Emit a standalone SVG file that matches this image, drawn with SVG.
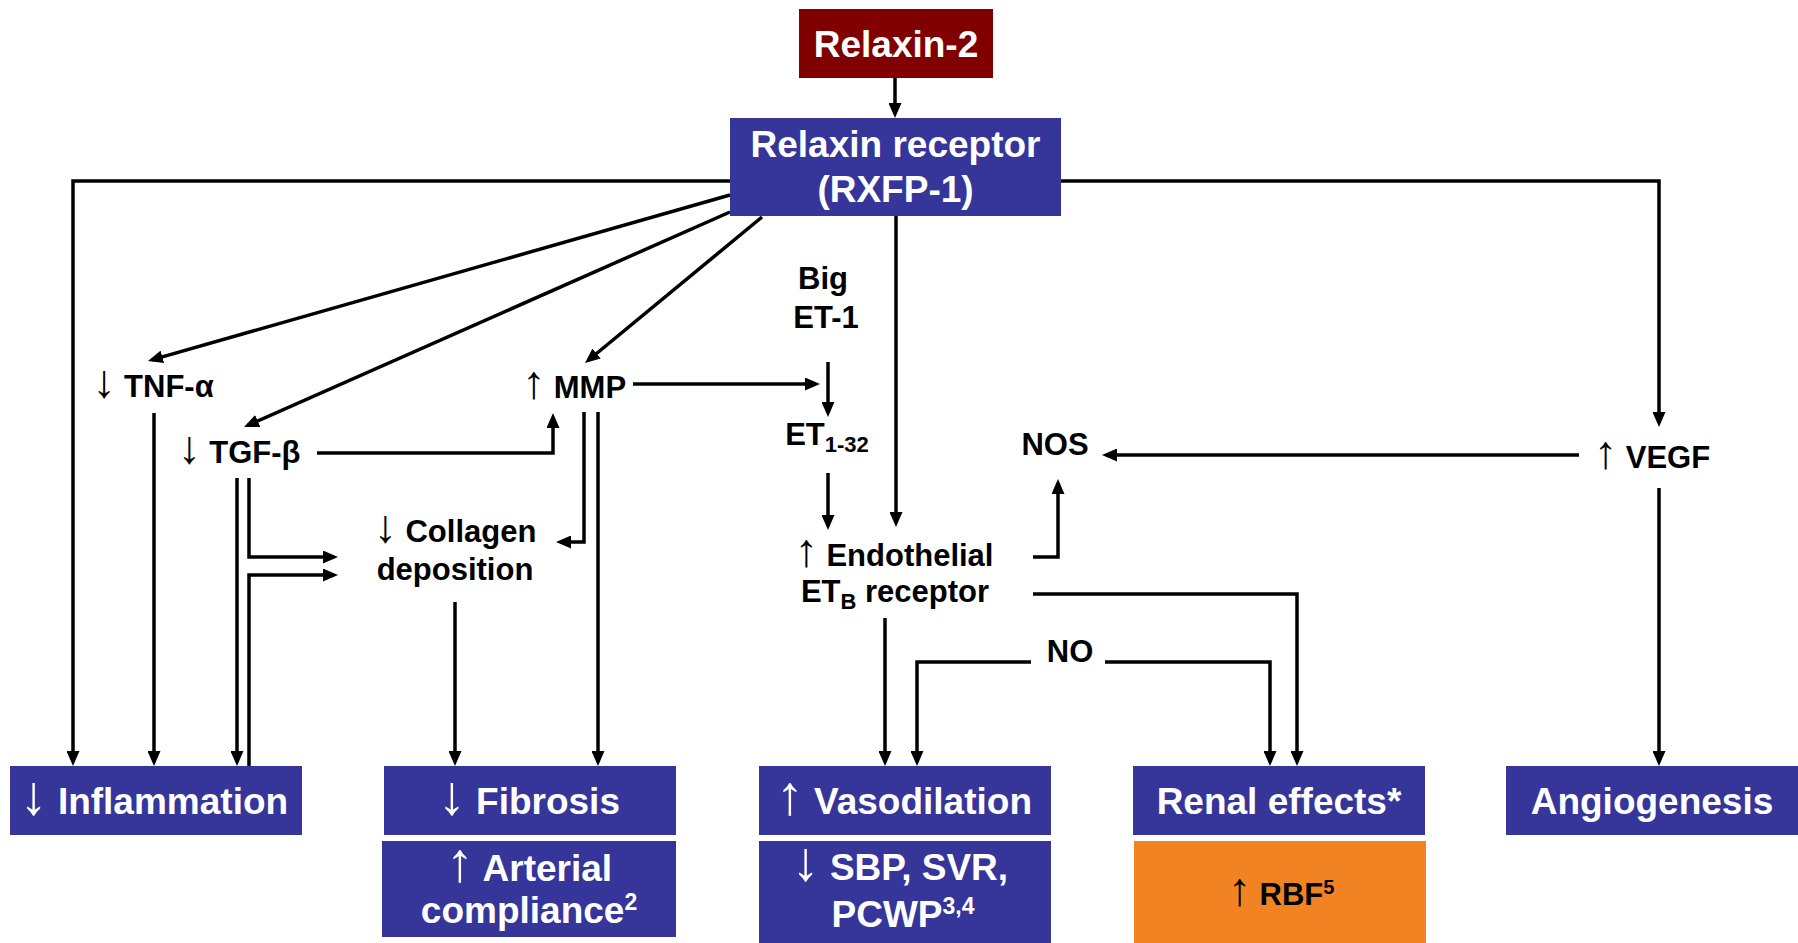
<svg xmlns="http://www.w3.org/2000/svg" width="1798" height="943" viewBox="0 0 1798 943">
<style>
.bg{fill:#ffffff}
.blue{fill:#35359A}
.red{fill:#800000}
.orange{fill:#F28322}
.bt{font-family:"Liberation Sans",Arial,sans-serif;font-weight:bold;font-size:37px;fill:#ffffff;text-anchor:middle}
.lb{font-family:"Liberation Sans",Arial,sans-serif;font-weight:bold;font-size:31px;fill:#000000;text-anchor:middle}
.ar{font-weight:normal;font-size:150%}
.c{fill:none;stroke:#000;stroke-width:3.5;stroke-linejoin:miter;marker-end:url(#ah)}
</style>
<defs>
<marker id="ah" viewBox="0 0 15 13" refX="11" refY="6.5" markerWidth="15" markerHeight="13" markerUnits="userSpaceOnUse" orient="auto"><path d="M0,0 L15,6.5 L0,13 z" fill="#000"/></marker>
</defs>
<rect class="bg" x="0" y="0" width="1798" height="943"/>

<g id="connectors">
<path class="c" d="M895,78 V114"/>
<path class="c" d="M730,181 H73 V762"/>
<path class="c" d="M1061,181 H1659 V423"/>
<path class="c" d="M730,195 L151.8,359.9"/>
<path class="c" d="M730,212 L247.7,425.4"/>
<path class="c" d="M762,217 L588.1,360.5"/>
<path class="c" d="M896,216 V523"/>
<path class="c" d="M828,362 V413"/>
<path class="c" d="M633,384 H816"/>
<path class="c" d="M828,473 V526"/>
<path class="c" d="M154,413 V762"/>
<path class="c" d="M237,478 V762"/>
<path class="c" d="M249,478 V557 H334"/>
<path class="c" d="M249,766 V575 H334"/>
<path class="c" d="M317,453 H553 V417"/>
<path class="c" d="M584,412 V542 H560"/>
<path class="c" d="M598,412 V762"/>
<path class="c" d="M455,602 V762"/>
<path class="c" d="M885,618 V762"/>
<path class="c" d="M1033,557 H1058 V483"/>
<path class="c" d="M1033,594 H1297 V762"/>
<path class="c" d="M1031,662 H917 V762"/>
<path class="c" d="M1105,662 H1270 V762"/>
<path class="c" d="M1579,455 H1106"/>
<path class="c" d="M1659,488 V762"/>
</g>

<g id="relaxin2">
<rect class="red" x="799" y="9" width="194" height="69"/>
<text class="bt" x="896" y="57">Relaxin-2</text>
</g>

<g id="receptor">
<rect class="blue" x="730" y="118" width="331" height="98"/>
<text class="bt" x="895.5" y="157">Relaxin receptor</text>
<text class="bt" x="895.5" y="202">(RXFP-1)</text>
</g>

<g id="tnf"><text class="lb" x="153" y="397"><tspan class="ar">↓</tspan> TNF-α</text></g>
<g id="tgf"><text class="lb" x="239" y="463"><tspan class="ar">↓</tspan> TGF-β</text></g>
<g id="mmp"><text class="lb" x="574" y="398"><tspan class="ar">↑</tspan> MMP</text></g>
<g id="bigET1">
<text class="lb" x="823" y="289">Big</text>
<text class="lb" x="826" y="328">ET-1</text>
</g>
<g id="et132"><text class="lb" x="827" y="445">ET<tspan font-size="22" dy="7">1-32</tspan></text></g>
<g id="collagen">
<text class="lb" x="455" y="542"><tspan class="ar">↓</tspan> Collagen</text>
<text class="lb" x="455" y="580">deposition</text>
</g>
<g id="endothelial">
<text class="lb" x="894" y="566"><tspan class="ar">↑</tspan> Endothelial</text>
<text class="lb" x="895" y="602">ET<tspan font-size="22" dy="7">B</tspan><tspan dy="-7"> receptor</tspan></text>
</g>
<g id="nos"><text class="lb" x="1055" y="455">NOS</text></g>
<g id="vegf"><text class="lb" x="1652" y="468"><tspan class="ar">↑</tspan> VEGF</text></g>
<g id="no"><text class="lb" x="1070" y="662">NO</text></g>

<g id="inflammation">
<rect class="blue" x="10" y="766" width="292" height="69"/>
<text class="bt" x="154" y="814"><tspan class="ar">↓</tspan> Inflammation</text>
</g>
<g id="fibrosis">
<rect class="blue" x="384" y="766" width="292" height="69"/>
<text class="bt" x="529" y="814"><tspan class="ar">↓</tspan> Fibrosis</text>
</g>
<g id="arterial">
<rect class="blue" x="382" y="841" width="294" height="96"/>
<text class="bt" x="529" y="881"><tspan class="ar">↑</tspan> Arterial</text>
<text class="bt" x="529" y="923">compliance<tspan font-size="23" dy="-13">2</tspan></text>
</g>
<g id="vasodilation">
<rect class="blue" x="759" y="766" width="292" height="69"/>
<text class="bt" x="904" y="814"><tspan class="ar">↑</tspan> Vasodilation</text>
</g>
<g id="sbp">
<rect class="blue" x="759" y="841" width="292" height="102"/>
<text class="bt" x="900" y="880"><tspan class="ar">↓</tspan> SBP, SVR,</text>
<text class="bt" x="903" y="927">PCWP<tspan font-size="23" dy="-13">3,4</tspan></text>
</g>
<g id="renal">
<rect class="blue" x="1133" y="766" width="292" height="69"/>
<text class="bt" x="1279" y="814">Renal effects*</text>
</g>
<g id="rbf">
<rect class="orange" x="1134" y="841" width="292" height="102"/>
<text class="lb" x="1281" y="905"><tspan class="ar">↑</tspan> RBF<tspan font-size="20" dy="-11">5</tspan></text>
</g>
<g id="angiogenesis">
<rect class="blue" x="1506" y="766" width="292" height="69"/>
<text class="bt" x="1652" y="814">Angiogenesis</text>
</g>
</svg>
